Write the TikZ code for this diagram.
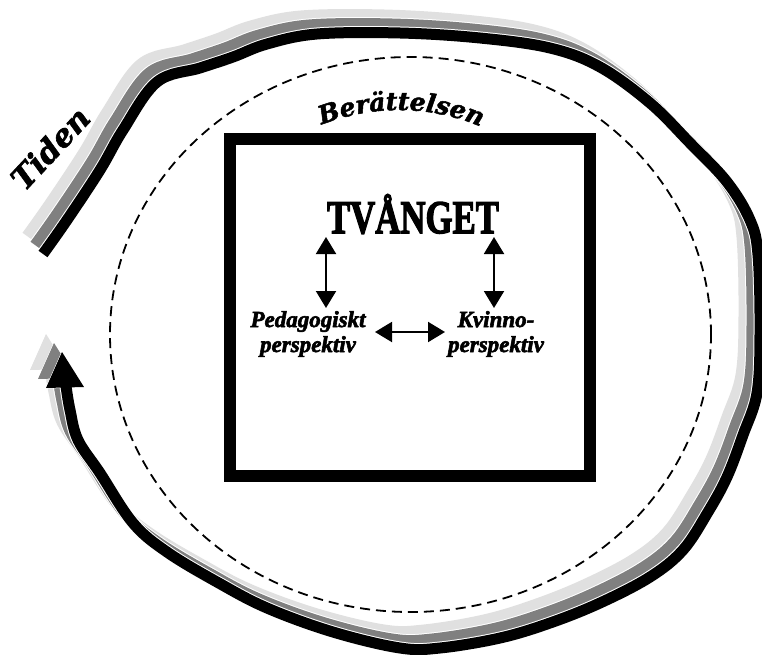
\documentclass[tikz,border=0pt]{standalone}
\usepackage{fontspec}
\setmainfont{Liberation Serif}
\newfontfamily\decofont[FakeBold=2,BoldFeatures={FakeBold=2},BoldItalicFeatures={FakeBold=2}]{DejaVu Serif}
\newfontfamily\heavyfont[FakeBold=3,BoldFeatures={FakeBold=3},BoldItalicFeatures={FakeBold=2.5}]{Liberation Serif}
\usetikzlibrary{arrows.meta,shapes.geometric,decorations.text}
\tikzset{
  dbl/.style={line width=2pt,{Triangle[width=20pt,length=17pt]}-{Triangle[width=20pt,length=17pt]}},
  lbl/.style={align=center,font=\heavyfont\fontsize{23}{25}\selectfont\bfseries\itshape,inner sep=0pt},
  band/.style={line width=11pt,line join=round},
  bandedge/.style={line width=13pt,line join=round,white},
}
\def\tidenpath{plot[smooth,tension=0.6] coordinates {(43,254) (67,220) (100,170) (123,130) (157,82) (200,68) (233,57) (267,44) (317,34) (400,33) (480,38) (550,48) (600,67) (650,103) (690,143) (727,182) (750,220) (758,255) (760,333) (757,393) (743,435) (727,477) (708,512) (683,550) (650,577) (600,603) (550,623) (500,638) (440,648) (400,648) (333,632) (267,608) (217,582) (167,552) (133,523) (100,473) (78,440) (70,410) (66,386)}}
\def\tidenhead{(62,352) -- (84,387) -- (46,388) -- cycle}
\begin{document}
\begin{tikzpicture}[x=1pt,y=-1pt]
\useasboundingbox (0,0) rectangle (762,655);
% time arrow, three shaded layers
\foreach \dx/\dy/\col in {-16/-18/black!12, -8/-9/black!50, 0/0/black}{
  \begin{scope}[shift={(\dx,\dy)}]
    \draw[bandedge] \tidenpath;
    \filldraw[white,line width=1pt] \tidenhead;
    \draw[band,draw=\col] \tidenpath;
    \fill[\col] \tidenhead;
  \end{scope}
}
% dashed ellipse (the story)
\node[ellipse,draw,dash pattern=on 10pt off 6pt,line width=1.8pt,minimum width=601pt,minimum height=555pt,inner sep=0pt] (story) at (410.5,334.5) {};
% box
\node[draw,line width=12pt,minimum width=360pt,minimum height=337pt,inner sep=0pt] (box) at (410,307.5) {};
% texts
\node[font=\heavyfont\fontsize{47}{47}\selectfont\bfseries,inner sep=0pt] (tv) at (413,214) {\scalebox{0.74}[1]{TVÅNGET}};
\node[lbl] (ped) at (308,334) {Pedagogiskt\\perspektiv};
\node[lbl] (kv) at (496,334) {Kvinno-\\perspektiv};
\node[font=\decofont\fontsize{31}{31}\selectfont\bfseries\itshape,rotate=47,inner sep=0pt] (tiden) at (50,148) {Tiden};
\path[decorate,decoration={text along path,text align=center,
  text={|\decofont\fontsize{25}{25}\selectfont\bfseries\itshape|Berättelsen}}]
  (316,127) .. controls (370,104) and (432,104) .. (486,129);
\coordinate (berc) at (401,115);
% connectors
\coordinate (tvl) at (326,237);
\coordinate (pedt) at (326,308);
\coordinate (tvr) at (494,237);
\coordinate (kvt) at (494,308);
\coordinate (pedr) at (375,332);
\coordinate (kvl) at (445,332);
\draw[dbl] (tvl) -- (pedt);
\draw[dbl] (tvr) -- (kvt);
\draw[dbl] (pedr) -- (kvl);
\end{tikzpicture}
\end{document}
